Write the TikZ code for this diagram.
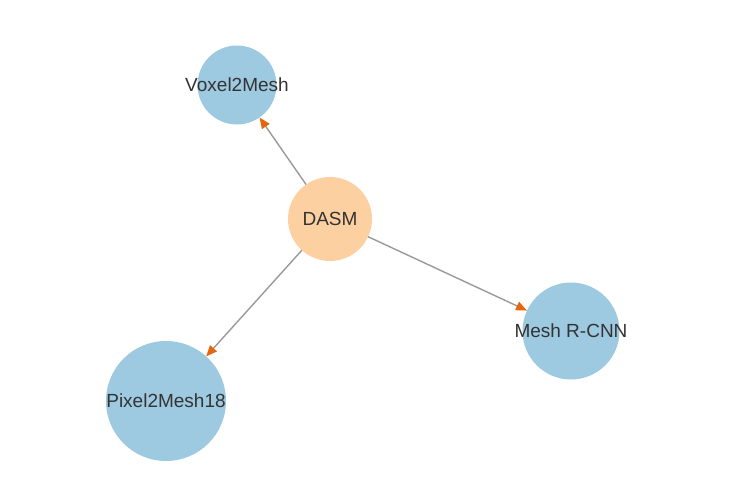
\documentclass[tikz,border=0pt]{standalone}
\usepackage{fontspec}
\setmainfont{Liberation Sans}
\usetikzlibrary{arrows.meta}
\definecolor{srcfill}{HTML}{FDD0A2}
\definecolor{dstfill}{HTML}{9ECAE1}
\definecolor{edgegray}{HTML}{999999}
\definecolor{tiporange}{HTML}{E6650F}
\definecolor{labelgray}{HTML}{333333}

\begin{document}
\begin{tikzpicture}[x=1pt, y=-1pt,
  model/.style={circle, fill=dstfill, inner sep=0pt, outer sep=0pt, text=labelgray, font=\fontsize{19}{21}\selectfont},
  source/.style={model, fill=srcfill},
  link/.style={draw=edgegray, line width=1.4pt, -{Triangle[length=11pt, width=9pt, color=tiporange]}}]
  \useasboundingbox (0,0) rectangle (742,482);
  \node[source, minimum size=84pt] (DASM) at (330,219) {\makebox[0pt]{DASM}};
  \node[model, minimum size=79pt] (Voxel2Mesh) at (237,85) {\makebox[0pt]{Voxel2Mesh}};
  \node[model, minimum size=97pt] (MeshRCNN) at (571,331) {\makebox[0pt]{Mesh R-CNN}};
  \node[model, minimum size=120pt] (Pixel2Mesh18) at (166,401) {\makebox[0pt]{Pixel2Mesh18}};
  \draw[link] (DASM) -- (Voxel2Mesh);
  \draw[link] (DASM) -- (MeshRCNN);
  \draw[link] (DASM) -- (Pixel2Mesh18);
\end{tikzpicture}
\end{document}
